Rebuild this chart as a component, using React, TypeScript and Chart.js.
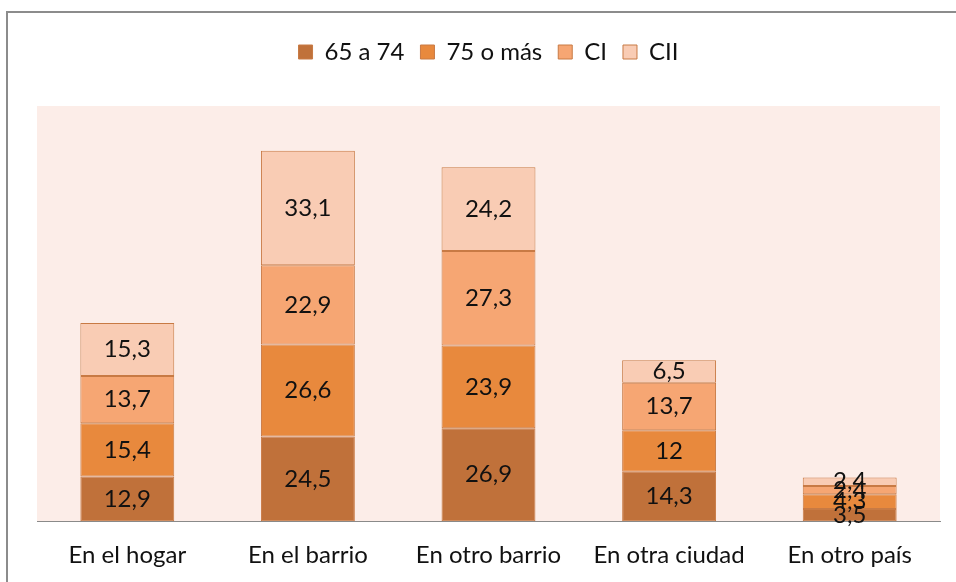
import React, { useEffect, useRef } from "react";
import { Chart, registerables } from "chart.js";

Chart.register(...registerables);

const categories = ["En el hogar", "En el barrio", "En otro barrio", "En otra ciudad", "En otro país"];
const seriesNames = ["65 a 74", "75 o más", "CI", "CII"];
const s65a74 = [12.9, 24.5, 26.9, 14.3, 3.5];
const s75mas = [15.4, 26.6, 23.9, 12, 4.3];
const sCI = [13.7, 22.9, 27.3, 13.7, 2.4];
const sCII = [15.3, 33.1, 24.2, 6.5, 2.4];
const fills = ["#C0713A", "#E8893D", "#F6A673", "#F9CCB4"];
const borderCol = "#C87A44";
const FONT = "Lato, 'Liberation Sans', sans-serif";

const bgPlugin = {
  id: "bgPlugin",
  beforeInit(chart: any) {
    const legend = chart.legend;
    if (legend) {
      const orig = legend.fit;
      legend.fit = function () {
        orig.call(this);
        this.height += 32;
      };
    }
  },
  beforeDraw(chart: any) {
    const { ctx, chartArea } = chart;
    ctx.save();
    ctx.fillStyle = "#FCEDE8";
    ctx.fillRect(chartArea.left, chartArea.top, chartArea.right - chartArea.left, chartArea.bottom - chartArea.top);
    ctx.restore();
  },
};

const labelPlugin = {
  id: "labelPlugin",
  afterDatasetsDraw(chart: any) {
    const { ctx } = chart;
    ctx.save();
    ctx.font = `24px ${FONT}`;
    ctx.fillStyle = "#111";
    ctx.textAlign = "center";
    ctx.textBaseline = "middle";
    chart.data.datasets.forEach((ds: any, i: number) => {
      const meta = chart.getDatasetMeta(i);
      meta.data.forEach((el: any, j: number) => {
        const v = ds.data[j];
        const y = (el.y + el.base) / 2;
        ctx.fillText(String(v).replace(".", ","), el.x, y);
      });
    });
    ctx.restore();
  },
};

export default function App() {
  const ref = useRef<HTMLCanvasElement>(null);
  useEffect(() => {
    const all = [s65a74, s75mas, sCI, sCII];
    const chart = new Chart(ref.current!, {
      type: "bar",
      data: {
        labels: categories,
        datasets: all.map((d, i) => ({
          label: seriesNames[i],
          data: d,
          backgroundColor: fills[i],
          borderColor: borderCol,
          borderWidth: 1,
          borderSkipped: false,
          categoryPercentage: 1,
          barPercentage: 0.52,
        })),
      },
      options: {
        animation: false,
        responsive: false,
        maintainAspectRatio: false,
        layout: { padding: { left: 37, right: 16, top: 24, bottom: 0 } },
        plugins: {
          legend: {
            position: "top",
            labels: {
              font: { family: FONT, size: 24 },
              color: "#111",
              boxWidth: 14,
              boxHeight: 14,
              padding: 16,
            },
          },
          tooltip: { enabled: false },
        },
        scales: {
          x: {
            stacked: true,
            grid: { display: false },
            border: { color: "#8A8A8A", width: 1 },
            ticks: { font: { family: FONT, size: 24 }, color: "#111", padding: 12 },
          },
          y: {
            stacked: true,
            display: false,
            min: 0,
            max: 120,
          },
        },
      },
      plugins: [bgPlugin, labelPlugin],
    });
    return () => chart.destroy();
  }, []);
  return (
    <div style={{ position: "fixed", left: 0, top: 0, width: 956, height: 582, background: "#fff" }}>
      <div
        style={{
          position: "absolute",
          left: 6,
          top: 11,
          width: 980,
          height: 600,
          borderLeft: "2px solid #8C8C8C",
          borderTop: "2px solid #8C8C8C",
        }}
      />
      <canvas ref={ref} width={956} height={582} style={{ position: "absolute", left: 0, top: 0 }} />
    </div>
  );
}
